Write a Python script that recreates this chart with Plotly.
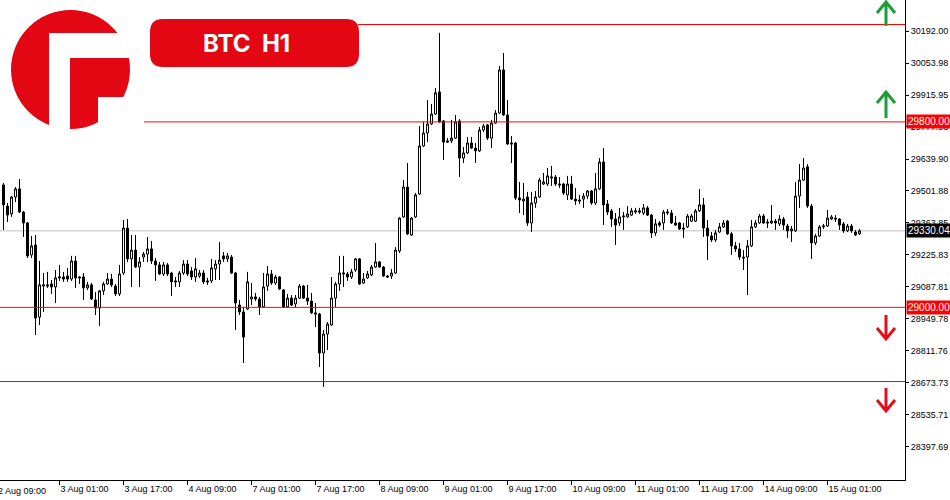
import plotly.graph_objects as go

# ---------------- data (BTC H1 candles) ----------------
opens = [
    29528, 29437, 29403, 29476, 29511, 29411, 29364, 29226, 29269, 28958,
    29092, 29097, 29101, 29088, 29127, 29131, 29135, 29122, 29200, 29131,
    29131, 29084, 29097, 29032, 28997, 29071, 29101, 29122, 29092, 29058,
    29148, 29342, 29209, 29247, 29174, 29217, 29230, 29252, 29200, 29183,
    29144, 29183, 29148, 29114, 29110, 29148, 29187, 29157, 29131, 29135,
    29148, 29114, 29114, 29166, 29187, 29222, 29209, 29217, 29148, 29010,
    28980, 28993, 29036, 29045, 29036, 29002, 29092, 29144, 29105, 29131,
    29075, 29002, 29040, 29015, 29040, 29092, 29040, 29027, 28976, 28971,
    28803, 28885, 28924, 29040, 29101, 29144, 29144, 29131, 29161, 29209,
    29105, 29127, 29140, 29174, 29196, 29174, 29135, 29135, 29148, 29243,
    29390, 29519, 29312, 29390, 29489, 29696, 29752, 29791, 29834, 29929,
    29804, 29718, 29718, 29730, 29804, 29644, 29666, 29709, 29687, 29675,
    29765, 29787, 29730, 29795, 29838, 30024, 29830, 29709, 29709, 29472,
    29459, 29476, 29364, 29450, 29476, 29532, 29532, 29558, 29562, 29532,
    29532, 29485, 29532, 29467, 29463, 29467, 29480, 29502, 29450, 29511,
    29627, 29446, 29416, 29381, 29364, 29390, 29390, 29398, 29411, 29416,
    29407, 29429, 29398, 29321, 29364, 29364, 29407, 29407, 29364, 29364,
    29342, 29347, 29372, 29372, 29416, 29442, 29342, 29308, 29291, 29325,
    29347, 29372, 29317, 29265, 29252, 29217, 29217, 29265, 29347, 29364,
    29394, 29368, 29364, 29372, 29360, 29381, 29351, 29330, 29330, 29480,
    29549, 29606, 29437, 29278, 29308, 29347, 29351, 29381, 29385, 29381,
    29360, 29330, 29351, 29325, 29317,
]
highs = [
    29537, 29450, 29480, 29519, 29554, 29416, 29368, 29308, 29312, 29200,
    29148, 29153, 29118, 29161, 29183, 29153, 29170, 29222, 29222, 29135,
    29148, 29110, 29105, 29066, 29075, 29110, 29148, 29144, 29101, 29183,
    29377, 29381, 29312, 29312, 29217, 29239, 29304, 29286, 29213, 29196,
    29196, 29191, 29153, 29131, 29157, 29204, 29204, 29174, 29213, 29161,
    29161, 29127, 29209, 29204, 29282, 29239, 29235, 29226, 29153, 29032,
    29002, 29153, 29105, 29062, 29045, 29148, 29178, 29161, 29140, 29135,
    29079, 29058, 29053, 29053, 29101, 29097, 29097, 29062, 29019, 28976,
    28902, 28937, 29131, 29110, 29222, 29222, 29153, 29166, 29213, 29213,
    29148, 29157, 29183, 29278, 29200, 29178, 29140, 29166, 29260, 29390,
    29549, 29623, 29390, 29493, 29782, 29800, 29894, 29877, 29946, 30184,
    29808, 29730, 29808, 29830, 29812, 29692, 29735, 29735, 29709, 29778,
    29791, 29791, 29808, 29851, 30041, 30097, 29894, 29739, 29713, 29541,
    29537, 29498, 29498, 29502, 29558, 29580, 29601, 29610, 29571, 29562,
    29537, 29567, 29567, 29515, 29485, 29493, 29506, 29506, 29580, 29644,
    29687, 29463, 29424, 29407, 29429, 29411, 29437, 29429, 29429, 29429,
    29446, 29437, 29403, 29381, 29372, 29420, 29424, 29420, 29394, 29368,
    29364, 29403, 29403, 29424, 29511, 29472, 29377, 29325, 29334, 29364,
    29377, 29377, 29325, 29282, 29278, 29247, 29291, 29377, 29377, 29403,
    29403, 29381, 29442, 29381, 29398, 29390, 29360, 29351, 29541, 29618,
    29644, 29618, 29446, 29317, 29355, 29360, 29420, 29398, 29398, 29385,
    29368, 29360, 29360, 29334, 29338,
]
lows = [
    29334, 29368, 29390, 29454, 29407, 29304, 29213, 29213, 28881, 28924,
    28980, 29084, 29058, 29019, 29114, 29110, 29110, 29114, 29084, 29101,
    29032, 29075, 29032, 28967, 28920, 29053, 29097, 29088, 29049, 29049,
    29140, 29196, 29088, 29170, 29088, 29196, 29196, 29187, 29114, 29140,
    29135, 29135, 29049, 29088, 29088, 29140, 29135, 29118, 29110, 29127,
    29101, 29097, 29105, 29118, 29118, 29196, 29196, 29144, 28902, 28967,
    28760, 28989, 29010, 29027, 28967, 28997, 29071, 29097, 29097, 29075,
    28997, 28997, 29006, 28997, 29036, 29036, 29010, 28971, 28915, 28743,
    28657, 28816, 28920, 29002, 29071, 29088, 29114, 29122, 29153, 29097,
    29101, 29122, 29135, 29170, 29170, 29131, 29127, 29122, 29144, 29235,
    29385, 29312, 29308, 29385, 29485, 29692, 29713, 29787, 29830, 29796,
    29636, 29709, 29709, 29726, 29562, 29623, 29662, 29683, 29623, 29670,
    29756, 29722, 29687, 29791, 29834, 29826, 29700, 29623, 29463, 29407,
    29398, 29351, 29325, 29429, 29472, 29528, 29524, 29524, 29524, 29515,
    29485, 29463, 29463, 29442, 29446, 29429, 29467, 29442, 29442, 29506,
    29355, 29398, 29347, 29269, 29351, 29334, 29385, 29394, 29403, 29403,
    29398, 29394, 29299, 29308, 29347, 29334, 29398, 29360, 29351, 29334,
    29299, 29342, 29368, 29368, 29411, 29304, 29204, 29282, 29282, 29321,
    29342, 29312, 29226, 29239, 29204, 29161, 29053, 29260, 29342, 29360,
    29360, 29342, 29360, 29334, 29351, 29334, 29299, 29282, 29325, 29429,
    29545, 29429, 29209, 29269, 29304, 29338, 29347, 29377, 29368, 29334,
    29321, 29325, 29321, 29308, 29312,
]
closes = [
    29442, 29398, 29476, 29511, 29411, 29364, 29222, 29265, 28954, 29097,
    29097, 29092, 29088, 29127, 29131, 29122, 29122, 29200, 29127, 29127,
    29084, 29097, 29036, 28997, 29071, 29101, 29122, 29097, 29058, 29144,
    29342, 29209, 29247, 29174, 29196, 29230, 29252, 29200, 29183, 29144,
    29183, 29144, 29110, 29110, 29148, 29187, 29144, 29131, 29166, 29148,
    29110, 29110, 29170, 29187, 29204, 29209, 29222, 29148, 29019, 28980,
    28872, 29110, 29045, 29036, 29002, 29088, 29144, 29105, 29131, 29079,
    29002, 29040, 29010, 29040, 29092, 29040, 29027, 28976, 28971, 28803,
    28885, 28928, 29040, 29101, 29148, 29148, 29131, 29153, 29209, 29101,
    29122, 29144, 29174, 29196, 29174, 29135, 29131, 29148, 29247, 29385,
    29519, 29317, 29385, 29485, 29696, 29752, 29791, 29834, 29925, 29800,
    29713, 29713, 29730, 29800, 29644, 29666, 29709, 29687, 29675, 29765,
    29782, 29730, 29795, 29838, 30024, 29830, 29705, 29705, 29472, 29463,
    29467, 29364, 29450, 29476, 29549, 29541, 29567, 29562, 29532, 29528,
    29493, 29532, 29467, 29459, 29459, 29480, 29502, 29450, 29511, 29627,
    29442, 29411, 29381, 29355, 29390, 29394, 29403, 29416, 29416, 29411,
    29429, 29398, 29321, 29360, 29355, 29411, 29411, 29364, 29355, 29338,
    29338, 29394, 29394, 29416, 29442, 29342, 29308, 29291, 29321, 29347,
    29364, 29317, 29265, 29252, 29217, 29213, 29265, 29347, 29364, 29394,
    29364, 29364, 29372, 29364, 29381, 29355, 29330, 29338, 29480, 29549,
    29601, 29437, 29278, 29308, 29347, 29351, 29385, 29390, 29381, 29355,
    29330, 29351, 29330, 29312, 29330.04,
]
bar_index = list(range(len(opens)))

# time-axis labels (one every 16 bars) and their bar positions
time_tick_bars = [14, 30, 46, 62, 78, 94, 110, 126, 142, 158, 174, 190, 206]
time_tick_labels = ["3 Aug 01:00", "3 Aug 17:00", "4 Aug 09:00", "7 Aug 01:00",
                    "7 Aug 17:00", "8 Aug 09:00", "9 Aug 01:00", "9 Aug 17:00",
                    "10 Aug 09:00", "11 Aug 01:00", "11 Aug 17:00",
                    "14 Aug 09:00", "15 Aug 01:00"]
first_partial_label = "2 Aug 09:00"

price_ticks = [28397.69, 28535.71, 28673.73, 28811.76, 28949.78, 29087.81,
               29225.83, 29363.85, 29501.88, 29639.90, 29777.93, 29915.95,
               30053.98, 30192.00]
price_tick_labels = ["%.2f" % v for v in price_ticks]

last_price = 29330.04
resistance_levels = [30220, 29800]
support_levels = [29000, 28680]
symbol_title = "BTC\u00a0\u00a0H1"

# ---------------- layout helpers (pixel -> paper, plot area 905 x 480) ----------------
PW, PH = 905.0, 480.0
def px(x):
    return x / PW
def py(y):
    return 1 - y / PH

X_RANGE = [-0.875, 225.375]
Y_RANGE = [28255.3, 30325.7]
FONT = "Liberation Sans, Arial, sans-serif"

fig = go.Figure()
fig.add_trace(go.Candlestick(
    x=bar_index, open=opens, high=highs, low=lows, close=closes,
    increasing=dict(line=dict(color="black", width=1), fillcolor="white"),
    decreasing=dict(line=dict(color="black", width=1), fillcolor="black"),
    whiskerwidth=0, hoverinfo="skip", showlegend=False,
))

shapes = []
# horizontal level lines
shapes.append(dict(type="line", xref="paper", yref="y", x0=px(358), x1=1,
                   y0=resistance_levels[0], y1=resistance_levels[0],
                   line=dict(color="#ff0000", width=1)))
shapes.append(dict(type="line", xref="paper", yref="y", x0=px(144), x1=1,
                   y0=resistance_levels[1], y1=resistance_levels[1],
                   line=dict(color="#ff0000", width=1)))
for lv in support_levels:
    shapes.append(dict(type="line", xref="paper", yref="y", x0=0, x1=1,
                       y0=lv, y1=lv, line=dict(color="#ff0000", width=1)))
shapes.append(dict(type="line", xref="paper", yref="y", x0=0, x1=1,
                   y0=last_price, y1=last_price,
                   line=dict(color="#c0c0c0", width=1), layer="below"))

# logo: red circle with white cut-outs
LOGO_RED = "#e30613"
shapes.append(dict(type="circle", xref="paper", yref="paper",
                   x0=px(11), x1=px(130), y0=py(129), y1=py(10),
                   fillcolor=LOGO_RED, line=dict(width=0)))
for (x0, y0, x1, y1) in [(49, 33, 70, 132), (49, 33, 133, 58), (98, 97, 133, 132)]:
    shapes.append(dict(type="rect", xref="paper", yref="paper",
                       x0=px(x0), x1=px(x1), y0=py(y1), y1=py(y0),
                       fillcolor="white", line=dict(width=0)))

# title badge (rounded rectangle)
bx0, by0, bx1, by1, r = 150, 19, 359, 67, 13
def P(x, y):
    return "%.5f,%.5f" % (px(x), py(y))
badge = ("M " + P(bx0 + r, by0) + " L " + P(bx1 - r, by0) +
         " Q " + P(bx1, by0) + " " + P(bx1, by0 + r) +
         " L " + P(bx1, by1 - r) + " Q " + P(bx1, by1) + " " + P(bx1 - r, by1) +
         " L " + P(bx0 + r, by1) + " Q " + P(bx0, by1) + " " + P(bx0, by1 - r) +
         " L " + P(bx0, by0 + r) + " Q " + P(bx0, by0) + " " + P(bx0 + r, by0) + " Z")
shapes.append(dict(type="path", xref="paper", yref="paper", path=badge,
                   fillcolor=LOGO_RED, line=dict(width=0)))

# direction arrows
def arrow(xc, y_tail, y_tip, color):
    d = 11 if y_tip < y_tail else -11
    path = ("M " + P(xc, y_tail) + " L " + P(xc, y_tip) +
            " M " + P(xc - 9, y_tip + d) + " L " + P(xc, y_tip) + " L " + P(xc + 9, y_tip + d))
    return dict(type="path", xref="paper", yref="paper", path=path,
                line=dict(color=color, width=3))
GREEN = "#1c9c3a"
RED = "#e3101b"
shapes.append(arrow(886, 26, 2, GREEN))
shapes.append(arrow(886, 118, 92, GREEN))
shapes.append(arrow(886, 315, 339, RED))
shapes.append(arrow(886, 388, 411, RED))

annotations = []
annotations.append(dict(xref="paper", yref="paper", x=px(246), y=py(43),
                        text=symbol_title, showarrow=False,
                        font=dict(family="Inter, Roboto, sans-serif", size=24,
                                  color="white", weight=700),
                        xanchor="center", yanchor="middle"))
# price labels on the axis
for val, bg in [(resistance_levels[1], "#ff0000"), (support_levels[0], "#ff0000"),
                (last_price, "#000000")]:
    annotations.append(dict(xref="paper", yref="y", x=1, y=val, xanchor="left",
                            yanchor="middle", xshift=1, text="%.2f" % val,
                            showarrow=False, bgcolor=bg, borderpad=1,
                            font=dict(family=FONT, size=10, color="white")))
# partially visible first time label
annotations.append(dict(xref="paper", yref="paper", x=px(-4), y=0, yshift=-4,
                        xanchor="left", yanchor="top", text=first_partial_label,
                        showarrow=False, font=dict(family=FONT, size=9, color="black")))

fig.update_layout(
    width=950, height=500,
    margin=dict(l=0, r=45, t=0, b=20, autoexpand=False),
    paper_bgcolor="white", plot_bgcolor="white",
    shapes=shapes, annotations=annotations,
    showlegend=False,
    boxgap=0.5, boxgroupgap=0,
    xaxis=dict(range=X_RANGE, rangeslider=dict(visible=False),
               tickmode="array", tickvals=time_tick_bars, ticktext=time_tick_labels,
               ticks="outside", ticklen=4, tickcolor="black", tickwidth=1,
               ticklabelposition="outside right",
               showline=True, linecolor="black", linewidth=1,
               showgrid=False, zeroline=False, automargin=False,
               tickfont=dict(family=FONT, size=9, color="black")),
    yaxis=dict(range=Y_RANGE, side="right",
               tickmode="array", tickvals=price_ticks, ticktext=price_tick_labels,
               ticks="outside", ticklen=3, tickcolor="black", tickwidth=1,
               showline=True, linecolor="black", linewidth=1,
               showgrid=False, zeroline=False, automargin=False,
               tickfont=dict(family=FONT, size=9, color="black")),
)

fig.write_html("out.html", config={"displayModeBar": False},
               post_script="document.body.style.margin='0';document.body.style.overflow='hidden';")
